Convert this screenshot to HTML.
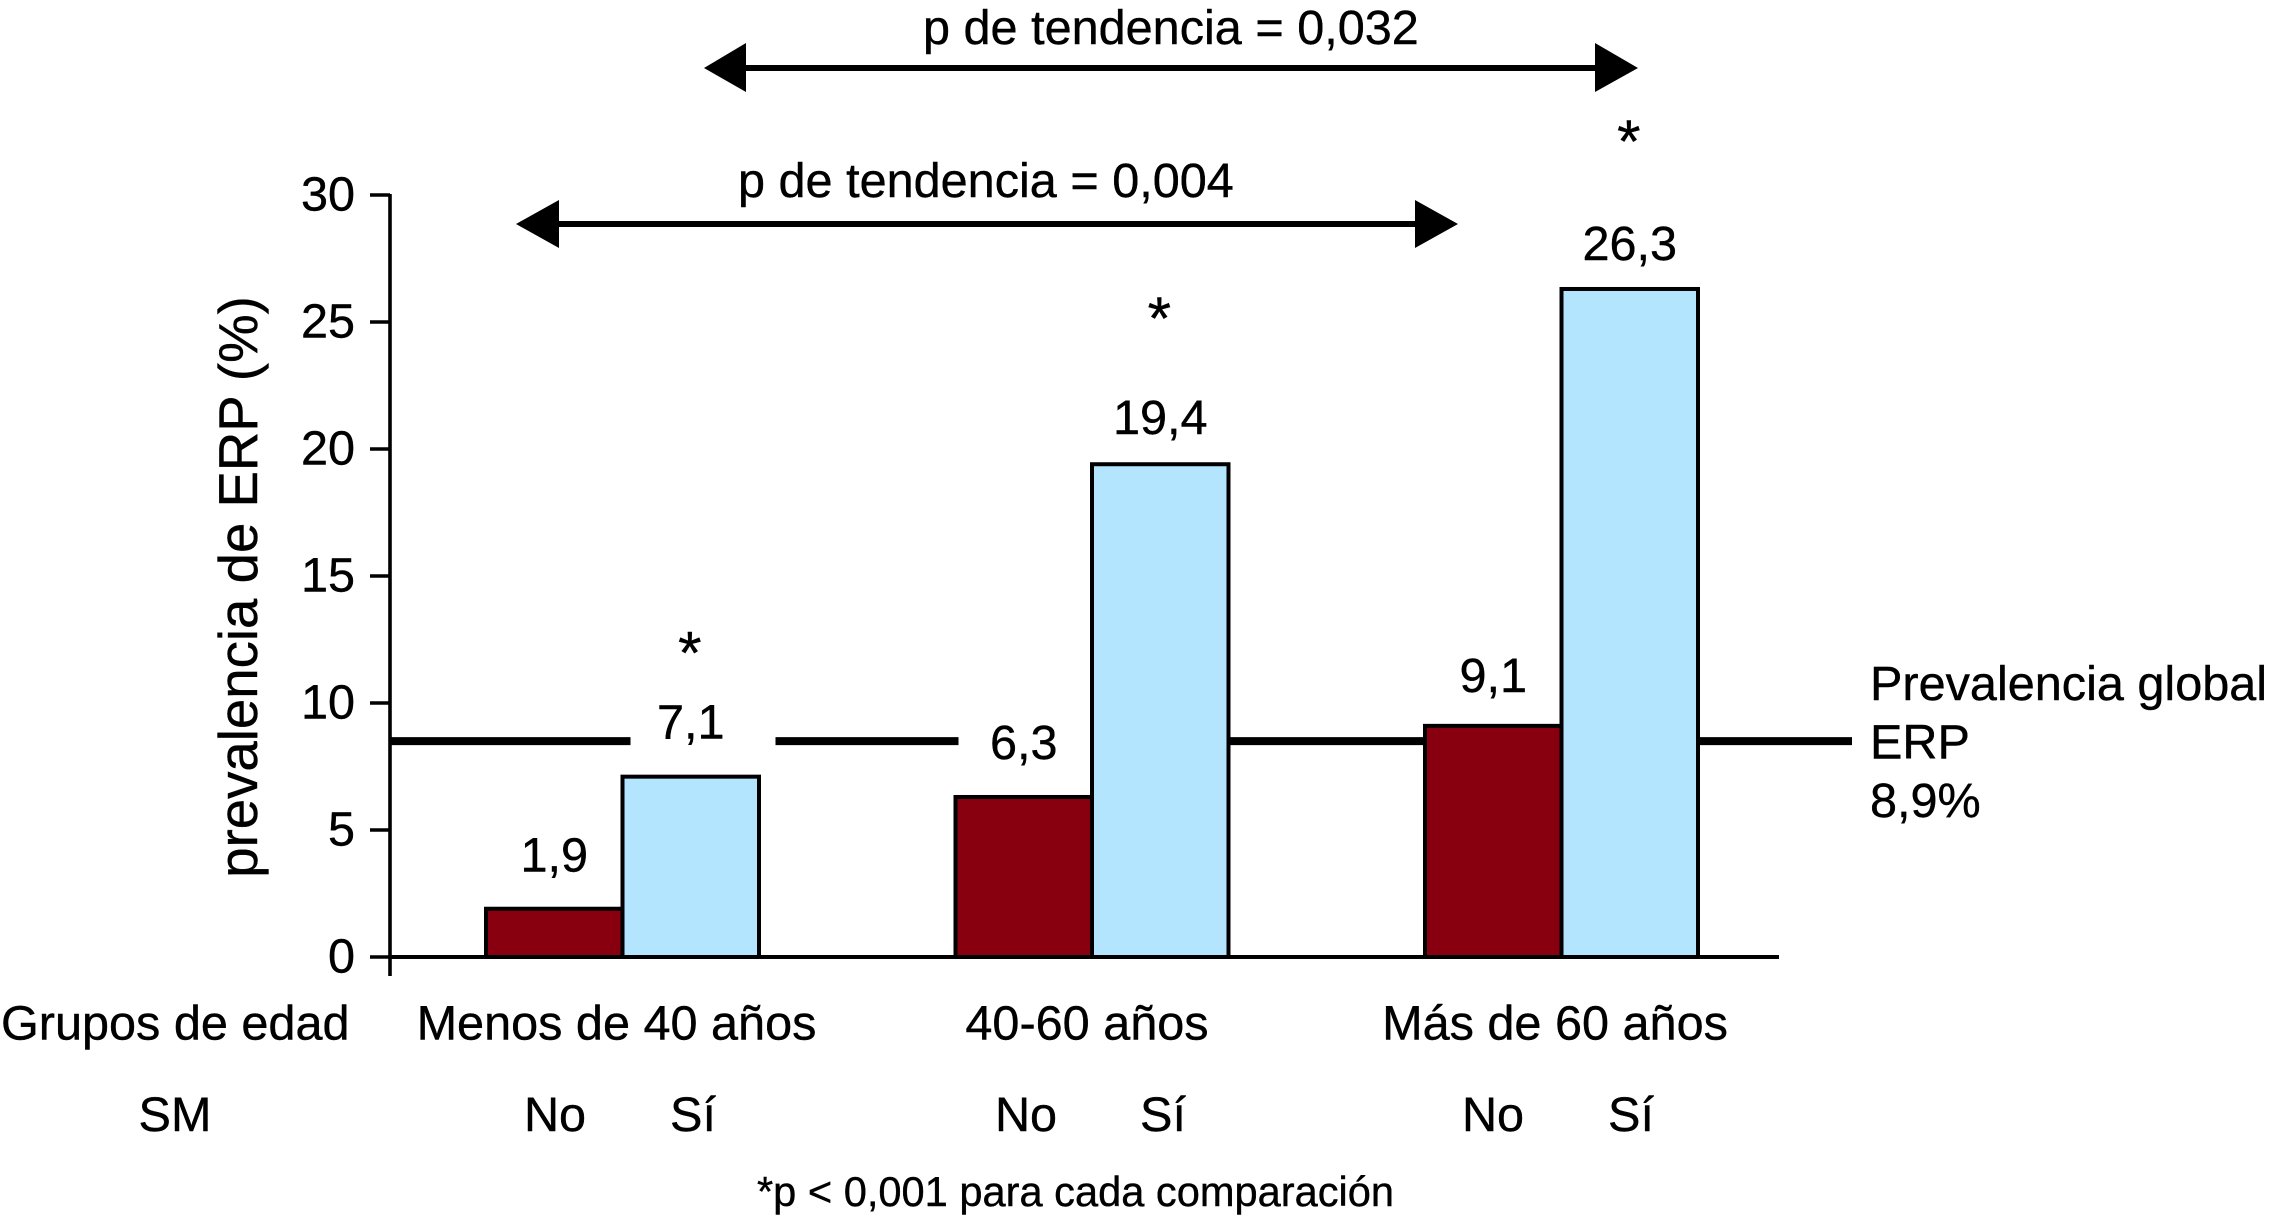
<!DOCTYPE html>
<html lang="es">
<head>
<meta charset="utf-8">
<title>Prevalencia de ERP</title>
<style>
html,body{margin:0;padding:0;background:#fff;width:2271px;height:1215px;overflow:hidden}
svg{display:block}
text{font-family:"Liberation Sans",sans-serif;font-size:48.6px;fill:#000;stroke:#000;stroke-width:.4px}
</style>
</head>
<body>
<svg id="chart" xmlns="http://www.w3.org/2000/svg" width="2271" height="1215" viewBox="0 0 2271 1215">
  <rect x="0" y="0" width="2271" height="1215" fill="#fff"/>

  <g id="reference-layer"></g>
  <g id="bars-layer"></g>
  <g id="axis-layer"></g>
  <g id="labels-layer"></g>

  <text transform="translate(257,587) rotate(-90)" text-anchor="middle" style="font-size:54.6px">prevalencia de ERP (%)</text>

  <g>
    <rect x="740" y="65" width="860" height="6" fill="#000"/>
    <polygon points="704,68 746,43 746,92" fill="#000"/>
    <polygon points="1638,68 1595,43 1595,92" fill="#000"/>
  </g>
  <text x="923" y="44">p de tendencia = 0,032</text>

  <g>
    <rect x="550" y="221" width="870" height="6" fill="#000"/>
    <polygon points="516,224 559,200 559,248" fill="#000"/>
    <polygon points="1458,224 1415,200 1415,248" fill="#000"/>
  </g>
  <text x="738" y="197">p de tendencia = 0,004</text>

  <text x="1" y="1039.5">Grupos de edad</text>
  <text x="616.5" y="1039.5" text-anchor="middle">Menos de 40 años</text>
  <text x="1087" y="1039.5" text-anchor="middle">40-60 años</text>
  <text x="1555" y="1039.5" text-anchor="middle">Más de 60 años</text>

  <text x="175" y="1131" text-anchor="middle">SM</text>
  <text x="555" y="1131" text-anchor="middle">No</text>
  <text x="693" y="1131" text-anchor="middle">Sí</text>
  <text x="1026" y="1131" text-anchor="middle">No</text>
  <text x="1163" y="1131" text-anchor="middle">Sí</text>
  <text x="1493" y="1131" text-anchor="middle">No</text>
  <text x="1631" y="1131" text-anchor="middle">Sí</text>

  <text x="757" y="1206" style="font-size:41.6px">*p &lt; 0,001 para cada comparación</text>

  <g>
    <text x="1870" y="700">Prevalencia global</text>
    <text x="1870" y="758.5">ERP</text>
    <text x="1870" y="817">8,9%</text>
  </g>
</svg>

<script>
var categories = ["Menos de 40 años", "40-60 años", "Más de 60 años"];
var seriesNames = ["No", "Sí"];
var seriesNo = [1.9, 6.3, 9.1];
var seriesSi = [7.1, 19.4, 26.3];
var printedNo = ["1,9", "6,3", "9,1"];
var printedSi = ["7,1", "19,4", "26,3"];
var significantSi = [true, true, true];
var tickValues = [0, 5, 10, 15, 20, 25, 30];
var tickLabels = ["0", "5", "10", "15", "20", "25", "30"];
var referenceValue = [8.5];

var SVG_NS = "http://www.w3.org/2000/svg";
var colors = ["#88000f", "#b3e5fe"];
var barBand = 136.5;

function yScale(v) { return 957 - v * 25.4; }
function xBar(groupIndex, seriesIndex) { return 486 + groupIndex * 469.5 + seriesIndex * barBand; }
function labelGap(seriesIndex, groupIndex) { return [[37, 38, 34], [38, 30, 29]][seriesIndex][groupIndex]; }
function starGap(groupIndex) { return [103, 125, 127][groupIndex]; }
function make(tag, attrs, parent) {
  var el = document.createElementNS(SVG_NS, tag);
  for (var k in attrs) { el.setAttribute(k, attrs[k]); }
  parent.appendChild(el);
  return el;
}

var refLayer = document.getElementById("reference-layer");
var barsLayer = document.getElementById("bars-layer");
var axisLayer = document.getElementById("axis-layer");
var labelsLayer = document.getElementById("labels-layer");

// Reference line, with white gaps around two of the value labels
var refY = yScale(referenceValue[0]);
var refLine = make("line", {x1: 390, x2: 1852, y1: refY, y2: refY, stroke: "#000", "stroke-width": 8}, refLayer);


var gapA = make("rect", {x: xBar(0, 1) + 8, y: refY - 8, width: 145, height: 16, fill: "#fff"}, refLayer);


var gapB = make("rect", {x: xBar(1, 0) + 3, y: refY - 8, width: barBand, height: 16, fill: "#fff"}, refLayer);



// Bars
var allSeries = [seriesNo, seriesSi];
for (var s = 0; s < allSeries.length; s++) {
  for (var g = 0; g < categories.length; g++) {
    var top_ = yScale(allSeries[s][g]);
    var bar = make("rect", {x: xBar(g, s), y: top_, width: barBand, height: yScale(0) - top_, fill: colors[s], stroke: "#000", "stroke-width": 4}, barsLayer);
    
    
  }
}

// Axes
var yAxisLine = make("line", {x1: 390, x2: 390, y1: yScale(30) - 1, y2: 976, stroke: "#000", "stroke-width": 3.6}, axisLayer);


var xAxisLine = make("line", {x1: 390, x2: 1779, y1: yScale(0), y2: yScale(0), stroke: "#000", "stroke-width": 4}, axisLayer);


for (var t = 0; t < tickValues.length; t++) {
  var ty = yScale(tickValues[t]);
  var tick = make("line", {x1: 370, x2: 390, y1: ty, y2: ty, stroke: "#000", "stroke-width": 3.6}, axisLayer);
  
  
  var tl = make("text", {x: 355, y: ty + 15.5, "text-anchor": "end"}, axisLayer);
  tl.textContent = tickLabels[t];
  
  
}

// Printed values and significance marks
var printed = [printedNo, printedSi];
for (var s2 = 0; s2 < printed.length; s2++) {
  for (var g2 = 0; g2 < categories.length; g2++) {
    var cx = xBar(g2, s2) + barBand / 2;
    var barTop = yScale(allSeries[s2][g2]);
    var vl = make("text", {x: cx, y: barTop - labelGap(s2, g2), "text-anchor": "middle"}, labelsLayer);
    vl.textContent = printed[s2][g2];
    
    
    if (s2 === 1 && significantSi[g2]) {
      var star = make("text", {x: cx - 1, y: barTop - starGap(g2), "text-anchor": "middle"}, labelsLayer);
      star.style.fontSize = "60px";
      star.textContent = "*";
      
      
    }
  }
}
</script>
</body>
</html>
